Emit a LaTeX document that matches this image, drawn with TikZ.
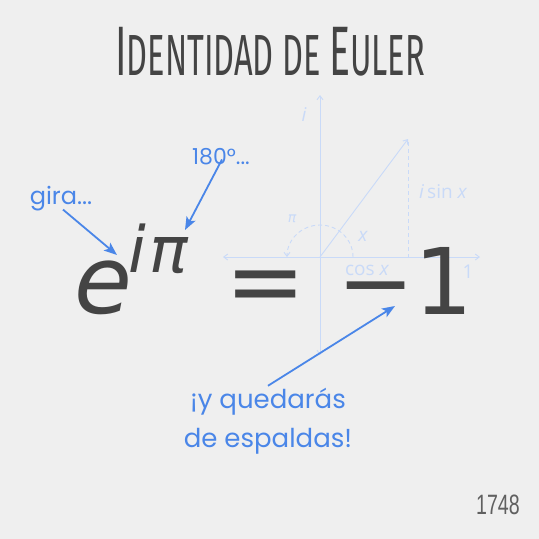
\documentclass[tikz,border=0pt]{standalone}
\usepackage{fontspec}
\setmainfont{Open Sans}
\newfontfamily\titlefont{Fira Sans}
\newfontfamily\formulafont{DejaVu Sans}
\newfontfamily\handfont{Poppins}
\newfontfamily\yearfont{Liberation Sans}
\usetikzlibrary{arrows.meta}
\definecolor{bgcolor}{RGB}{239,239,239}
\definecolor{inkgray}{RGB}{68,68,68}
\definecolor{noteblue}{RGB}{74,134,232}
\definecolor{faintblue}{RGB}{201,218,248}
\begin{document}
\begin{tikzpicture}[x=1pt,y=-1pt,
  axisline/.style={faintblue,line width=0.9pt,{Straight Barb[length=4pt,width=6pt]}-{Straight Barb[length=4pt,width=6pt]}},
  faintlabel/.style={faintblue,font=\fontsize{19}{19}\selectfont,inner sep=0pt},
  notearrow/.style={noteblue,line width=1.8pt,-{Stealth[length=13pt,width=10pt,inset=3pt]}},
  notetext/.style={noteblue,inner sep=0pt,align=center},
  bigsym/.style={inkgray,inner sep=0pt,anchor=base west}]
% Background
\fill[bgcolor] (0,0) rectangle (539,539);
\useasboundingbox (0,0) rectangle (539,539);

% Title
\node[inkgray,inner sep=0pt,anchor=base west] (title) at (115,75)
  {\titlefont\scalebox{0.56}[1]{\fontsize{70}{70}\selectfont I\fontsize{58}{58}\selectfont DENTIDAD DE \fontsize{70}{70}\selectfont E\fontsize{58}{58}\selectfont ULER}};

% Axes
\draw[axisline] (320,95) -- (320,355);
\draw[axisline] (223,257) -- (480,257);

% Vector and projection
\draw[faintblue,line width=0.9pt,-{Straight Barb[length=4pt,width=6pt]}] (320,257) -- (408,139);
\draw[faintblue,line width=0.9pt,dash pattern=on 4pt off 3pt] (408,142) -- (408,257);
\draw[faintblue,line width=0.9pt,dash pattern=on 4pt off 3pt,-{Straight Barb[length=4pt,width=6pt]}]
  (353,257) arc[start angle=0,end angle=180,x radius=33pt,y radius=32pt];

% Axis labels
\node[faintlabel] (imlabel) at (304,115) {\itshape i};
\node[faintlabel] (sinlabel) at (443,192) {\itshape i\,\upshape sin \itshape x};
\node[faintlabel,font=\fontsize{14}{14}\selectfont] (pilabel) at (292,219) {\formulafont\itshape π};
\node[faintlabel] (anglelabel) at (363,236) {\itshape x};
\node[faintlabel] (coslabel) at (367,270) {cos \itshape x};
\node[faintlabel] (onelabel) at (468,272) {1};

% Formula
\node[bigsym,font=\formulafont\itshape\fontsize{94}{94}\selectfont] (e) at (74,313) {e};
\node[bigsym,font=\formulafont\itshape\fontsize{64}{64}\selectfont] (ipi) at (128,272) {i\kern4pt π};
\node[bigsym,font=\formulafont\fontsize{96}{96}\selectfont] (eq) at (225,314) {=};
\node[bigsym,font=\formulafont\fontsize{92}{92}\selectfont] (minusone) at (337,314) {−1};

% Notes
\node[notetext,font=\handfont\fontsize{24}{24}\selectfont] (gira) at (61,199) {gira...};
\node[notetext,font=\handfont\fontsize{22}{22}\selectfont] (turn) at (221,157) {180°...};
\node[notetext,font=\handfont\fontsize{26}{39}\selectfont] (back) at (268,421) {¡y quedarás\\de espaldas!};
\coordinate (giratip) at (117,255);
\coordinate (turntip) at (185,230);
\coordinate (backtip) at (395,306);
\draw[notearrow] ([shift={(2,-2)}]gira.south) -- (giratip);
\draw[notearrow] ([shift={(1,-6)}]turn.south) -- (turntip);
\draw[notearrow] ([shift={(0,-2)}]back.north) -- (backtip);

% Year
\node[inner sep=0pt,text=inkgray!85,font=\yearfont\fontsize{28}{28}\selectfont] (year) at (498,505) {\scalebox{0.7}[1]{1748}};
\end{tikzpicture}
\end{document}
